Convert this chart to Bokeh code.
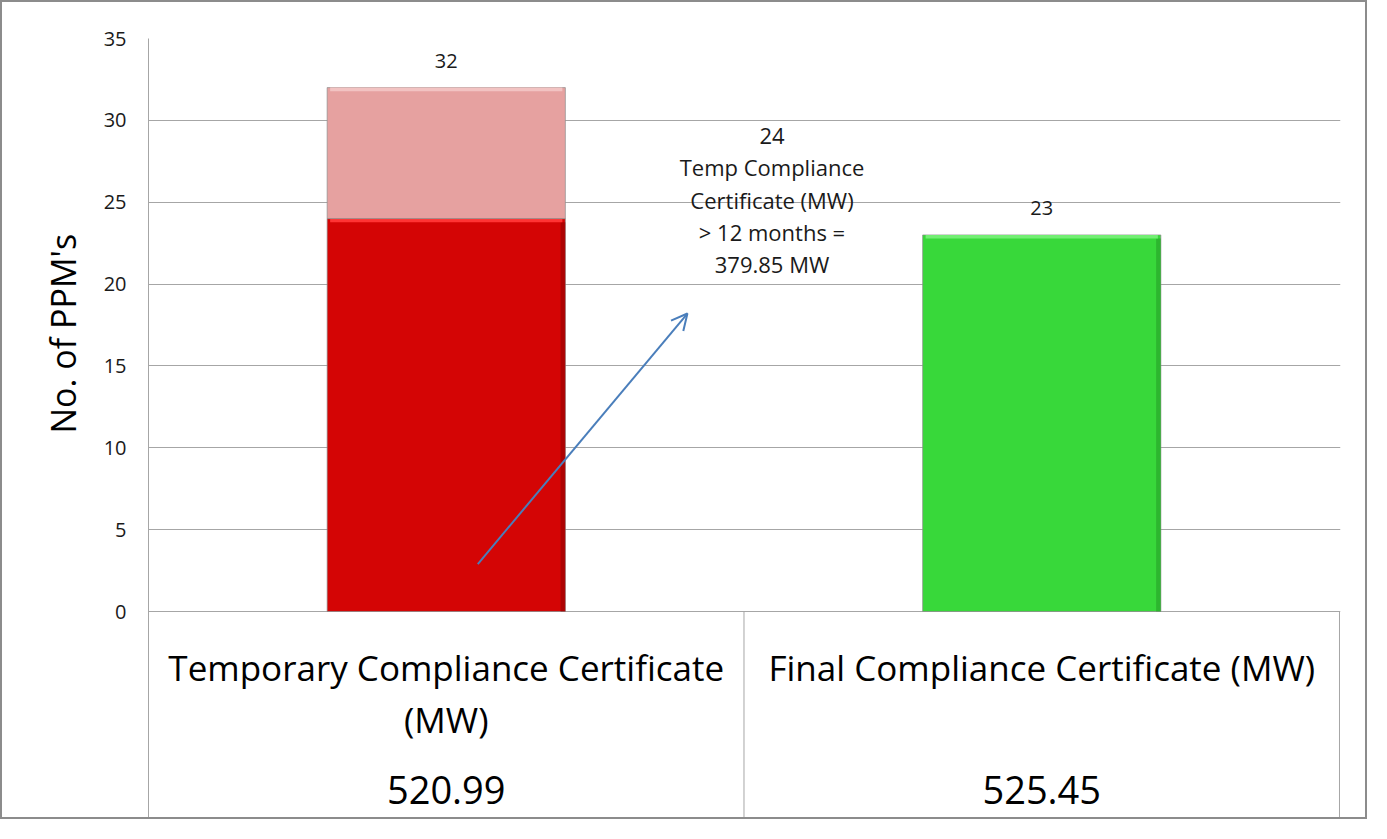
from bokeh.plotting import figure
from bokeh.models import Range1d, FixedTicker, Arrow, OpenHead, Title
from bokeh.core.properties import value
from bokeh.embed import file_html
from bokeh.resources import INLINE

# ---- data ----
categories = ["Temporary Compliance Certificate\n(MW)", "Final Compliance Certificate (MW)"]
category_mw = ["520.99", "525.45"]
lower_counts = [24, 23]          # red (temp > 12 months) / green (final)
upper_counts = [8, 0]            # pink (remaining temp certificates)
lower_colors = ["#d40505", "#38d83a"]
lower_highlight = ["#ff3434", "#72ee73"]
lower_shade = ["#8e0000", "#259b27"]
upper_color = "#e6a1a0"
upper_highlight = "#f2c3c2"
y_ticks = [0, 5, 10, 15, 20, 25, 30, 35]
y_label = "No. of PPM's"
annot_text = "24\nTemp Compliance\nCertificate (MW)\n> 12 months =\n379.85 MW"

FONT = "Open Sans"
W, H = 1367, 819
left, right, top = 146, 30, 36
plot_h = 573                      # pixels for 0..35
y_max = 35
frame_h = H - top
y_lo = -y_max * (frame_h - plot_h) / plot_h
ppu = plot_h / y_max
xpad = 1 / 595
GRID = "#a6a6a6"
TXT = "#1a1a1a"

p = figure(width=W, height=H, x_range=Range1d(0, len(categories) + xpad), y_range=Range1d(y_lo, y_max),
           output_backend="svg", toolbar_location=None, x_axis_location=None,
           min_border_left=left, min_border_right=right - 1, min_border_top=top, min_border_bottom=0)
p.outline_line_color = None
p.background_fill_color = "white"
p.border_fill_color = "white"
p.styles = {"border": "2px solid #8c8c8c"}

ax = p.yaxis[0]
ax.ticker = FixedTicker(ticks=y_ticks)
ax.major_tick_out = 0
ax.major_tick_in = 0
ax.minor_tick_out = 0
ax.minor_tick_in = 0
ax.axis_line_color = GRID
ax.major_label_standoff = 22
ax.major_label_text_font = FONT
ax.major_label_text_font_size = "20px"
ax.major_label_text_color = TXT

for g in p.xgrid:
    g.visible = False
p.ygrid.grid_line_color = GRID
p.ygrid.grid_line_width = 1
p.ygrid.bounds = (0, y_max)

# y axis title, placed along the 0..35 span
p.add_layout(Title(text=y_label, align="left", offset=388, vertical_align="middle",
                   standoff=28, text_font=FONT, text_font_size="34px",
                   text_font_style="normal", text_color="#000000"), "left")

centers = [i + 0.5 for i in range(len(categories))]
bw = 0.4
hl = 0.22  # highlight strip thickness (data units)

# bars
p.vbar(x=centers, bottom=0, top=lower_counts, width=bw, fill_color=lower_colors,
       line_color="#8c8c8c", line_alpha=0.7, line_width=1)
p.vbar(x=[c + bw / 2 - 0.004 for c in centers], bottom=0, top=[v - hl for v in lower_counts],
       width=0.008, fill_color=lower_shade, fill_alpha=0.55, line_color=None)
p.vbar(x=centers, bottom=[v - hl for v in lower_counts], top=lower_counts, width=bw - 0.01,
       fill_color=lower_highlight, line_color=None)
upper_top = [a + b for a, b in zip(lower_counts, upper_counts)]
p.vbar(x=centers[:1], bottom=lower_counts[:1], top=upper_top[:1], width=bw,
       fill_color=upper_color, line_color="#8c8c8c", line_alpha=0.7, line_width=1)
p.vbar(x=centers[:1], bottom=[upper_top[0] - hl], top=upper_top[:1], width=bw - 0.01,
       fill_color=upper_highlight, line_color=None)

# total labels
totals = [upper_top[0], lower_counts[1]]
p.text(x=centers, y=totals, text=[str(t) for t in totals], text_align="center",
       text_baseline="middle", y_offset=-26.5, text_font=value(FONT), text_font_size="20px",
       text_color=TXT)

# data label for the 24 segment
p.text(x=[1.047], y=[30.0], text=[annot_text], text_align="center", text_baseline="top",
       text_font=value(FONT), text_font_size="22px", text_line_height=1.07, text_color=TXT)

p.add_layout(Arrow(end=OpenHead(size=16, line_color="#4a7ebb", line_width=2),
                   x_start=0.553, y_start=2.9, x_end=0.905, y_end=18.2,
                   line_color="#4a7ebb", line_width=2))

# ---- table under the chart ----
bounds_x = list(range(1, len(categories) + 1))
p.segment(x0=bounds_x, y0=[y_lo] * len(bounds_x), x1=bounds_x, y1=[0] * len(bounds_x),
          line_color=GRID, line_width=1)
p.text(x=centers, y=[-32 / ppu] * 2, text=categories, text_align="center", text_baseline="top",
       text_font=value(FONT), text_font_size="35px", text_line_height=1.11, text_color="#000000")
p.text(x=centers, y=[-178.5 / ppu] * 2, text=category_mw, text_align="center", text_baseline="middle",
       text_font=value(FONT), text_font_size="38px", text_color="#000000")

open("out.html", "w").write(file_html(p, INLINE))
